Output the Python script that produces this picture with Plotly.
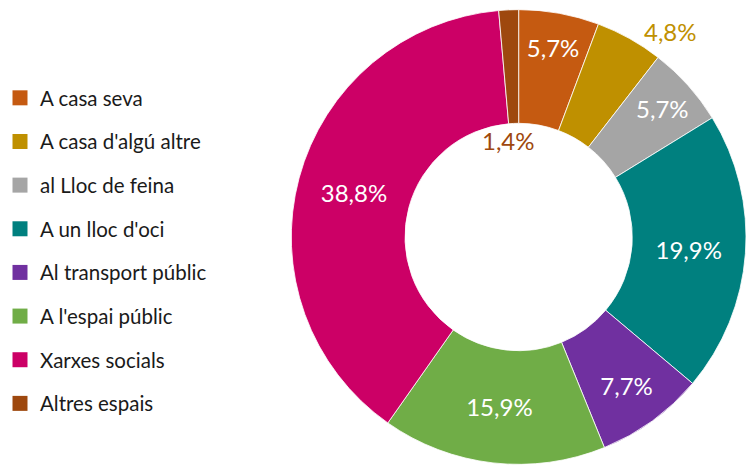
import math
import plotly.graph_objects as go

# data
labels = [
    "A casa seva",
    "A casa d'algú altre",
    "al Lloc de feina",
    "A un lloc d'oci",
    "Al transport públic",
    "A l'espai públic",
    "Xarxes socials",
    "Altres espais",
]
values = [5.7, 4.8, 5.7, 19.9, 7.7, 15.9, 38.8, 1.4]
colors = ["#C55A11", "#BF9000", "#A5A5A5", "#00807F",
          "#7030A0", "#70AD47", "#CC0066", "#9E480E"]

W, H = 746, 468
cx, cy, R = 516.5, 237, 229.5
FONT = "Lato"


def pct(v):
    return f"{v:.1f}%".replace(".", ",")


def slice_mid(i):
    # angle (clockwise from 12 o'clock) of the middle of slice i
    total = sum(values)
    return (sum(values[:i]) + values[i] / 2) / total * 2 * math.pi


text = [pct(v) for v in values]
positions = ["inside"] * len(values)
positions[1] = "none"   # labelled outside the ring
positions[-1] = "none"  # labelled inside the hole

fig = go.Figure()

fig.add_trace(
    go.Pie(
        labels=labels,
        values=values,
        text=text,
        textinfo="text",
        textposition=positions,
        insidetextorientation="horizontal",
        textfont=dict(family=FONT, size=24, color="white"),
        marker=dict(colors=colors, line=dict(color="white", width=0.8)),
        hole=0.5,
        sort=False,
        direction="clockwise",
        rotation=0,
        showlegend=False,
        hoverinfo="label+text",
        domain=dict(x=[(cx - R) / W, min(1.0, (cx + R) / W)],
                    y=[1 - (cy + R) / H, 1 - (cy - R) / H]),
    )
)

# legend entries with a gap between them
for lab, col in zip(labels, colors):
    fig.add_trace(
        go.Scatter(
            x=[None], y=[None],
            mode="markers",
            name=lab,
            legendgroup=lab,
            marker=dict(symbol="square", size=15, color=col),
        )
    )

# 4,8% sits just outside the ring
a = slice_mid(1)
r_out = 1.04 * R
fig.add_annotation(
    x=(cx + r_out * math.sin(a)) / W,
    y=1 - (cy - r_out * math.cos(a)) / H,
    xref="paper", yref="paper",
    xanchor="left", yanchor="middle",
    xshift=8, yshift=-3,
    text=pct(values[1]),
    showarrow=False,
    font=dict(family=FONT, size=24, color=colors[1]),
)

# 1,4% sits inside the hole
a = slice_mid(len(values) - 1)
r_in = 0.42 * R
fig.add_annotation(
    x=(cx + r_in * math.sin(a)) / W,
    y=1 - (cy - r_in * math.cos(a)) / H,
    xref="paper", yref="paper",
    xanchor="center", yanchor="middle",
    xshift=-6,
    text=pct(values[-1]),
    showarrow=False,
    font=dict(family=FONT, size=24, color=colors[-1]),
)

fig.update_layout(
    width=W,
    height=H,
    margin=dict(l=0, r=0, t=0, b=0),
    paper_bgcolor="white",
    plot_bgcolor="white",
    xaxis=dict(visible=False),
    yaxis=dict(visible=False),
    legend=dict(
        x=-0.01, y=1 - 78 / H, xanchor="left", yanchor="top",
        font=dict(family=FONT, size=20.5, color="#1a1a1a"),
        tracegroupgap=14,
        itemwidth=30,
        bgcolor="rgba(0,0,0,0)",
    ),
)

# drop the default body margin so the figure sits at the window's corner
fig.write_html(
    "out.html",
    config={"displayModeBar": False},
    post_script="document.body.style.margin='0';",
)
